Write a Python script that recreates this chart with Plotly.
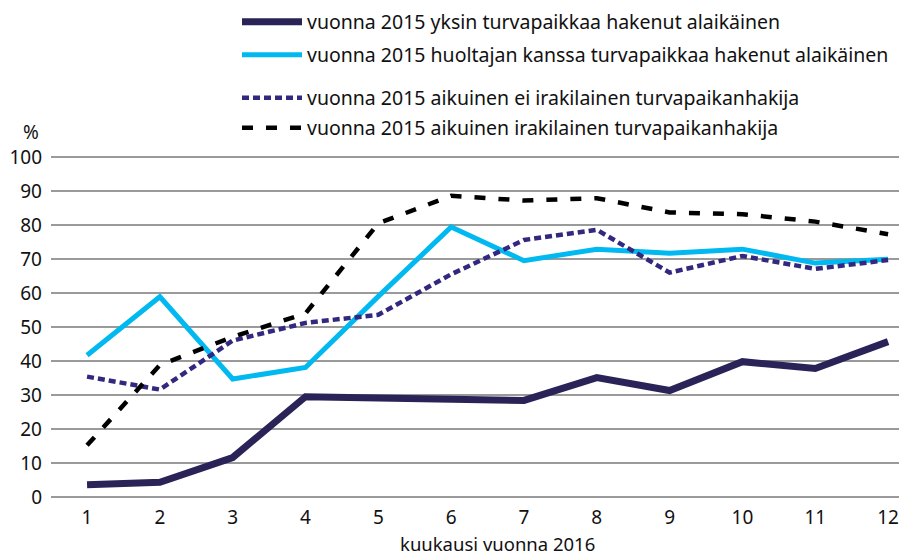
import plotly.graph_objects as go

months = list(range(1, 13))
month_labels = [str(m) for m in months]

names = [
    "vuonna 2015 yksin turvapaikkaa hakenut alaikäinen",
    "vuonna 2015 huoltajan kanssa turvapaikkaa hakenut alaikäinen",
    "vuonna 2015 aikuinen ei irakilainen turvapaikanhakija",
    "vuonna 2015 aikuinen irakilainen turvapaikanhakija",
]
x_title = "kuukausi vuonna 2016"
yksin = [3.6, 4.3, 11.6, 29.5, 29.1, 28.7, 28.4, 35.1, 31.3, 39.8, 37.8, 45.7]
huoltaja = [41.7, 58.9, 34.7, 38.1, 59.0, 79.4, 69.5, 72.9, 71.7, 72.9, 68.8, 69.9]
ei_irak = [35.4, 31.6, 46.0, 51.2, 53.6, 65.5, 75.6, 78.6, 66.0, 70.9, 67.1, 69.7]
irak = [15.2, 38.8, 47.1, 54.0, 80.5, 88.6, 87.2, 87.9, 83.7, 83.2, 81.0, 77.3]

y_ticks = list(range(0, 101, 10))

FONT = "Noto Sans, sans-serif"
W, H = 899, 548

fig = go.Figure()
fig.add_trace(go.Scatter(x=months, y=yksin, name=names[0], mode="lines",
                         line=dict(color="#2a2357", width=7), legend="legend"))
fig.add_trace(go.Scatter(x=months, y=huoltaja, name=names[1], mode="lines",
                         line=dict(color="#00b9f0", width=5), legend="legend2"))
fig.add_trace(go.Scatter(x=months, y=ei_irak, name=names[2], mode="lines",
                         line=dict(color="#33287f", width=4.5, dash="7px,4px"), legend="legend3"))
fig.add_trace(go.Scatter(x=months, y=irak, name=names[3], mode="lines",
                         line=dict(color="#000000", width=4.5, dash="11px,13px"), legend="legend4"))


def leg(ypx):
    return dict(xref="container", yref="container", xanchor="left", yanchor="middle",
                x=(237 - 8) / W, y=1 - (ypx - 8) / H,
                bgcolor="rgba(0,0,0,0)", font=dict(family=FONT, size=19.5, color="#111"),
                itemwidth=60)


fig.update_layout(
    width=W, height=H,
    paper_bgcolor="white", plot_bgcolor="white",
    margin=dict(l=43, r=0, t=147, b=57, autoexpand=False),
    font=dict(family=FONT, size=19, color="#111"),
    showlegend=True,
    legend=leg(22), legend2=leg(55), legend3=leg(98), legend4=leg(128),
    xaxis=dict(range=[0.505, 12.26], tickvals=months, ticktext=month_labels,
               showgrid=False, zeroline=False, showline=False, ticks="",
               ticklabelstandoff=5),
    yaxis=dict(range=[-0.6, 100.6], tickvals=y_ticks, showgrid=True,
               gridcolor="#9a9a9a", gridwidth=1.5, zeroline=False,
               showline=False, ticks="", ticklabelstandoff=8),
    annotations=[
        dict(text="%", xref="paper", yref="paper", x=-0.023, y=1.022,
             xanchor="center", yanchor="bottom", showarrow=False,
             font=dict(family=FONT, size=19, color="#111")),
        dict(text=x_title, xref="paper", yref="paper", x=(497 - 51) / 856, y=-0.129,
             xanchor="center", yanchor="middle", showarrow=False,
             font=dict(family=FONT, size=18.5, color="#111")),
    ],
)

fig.write_html("out.html")
